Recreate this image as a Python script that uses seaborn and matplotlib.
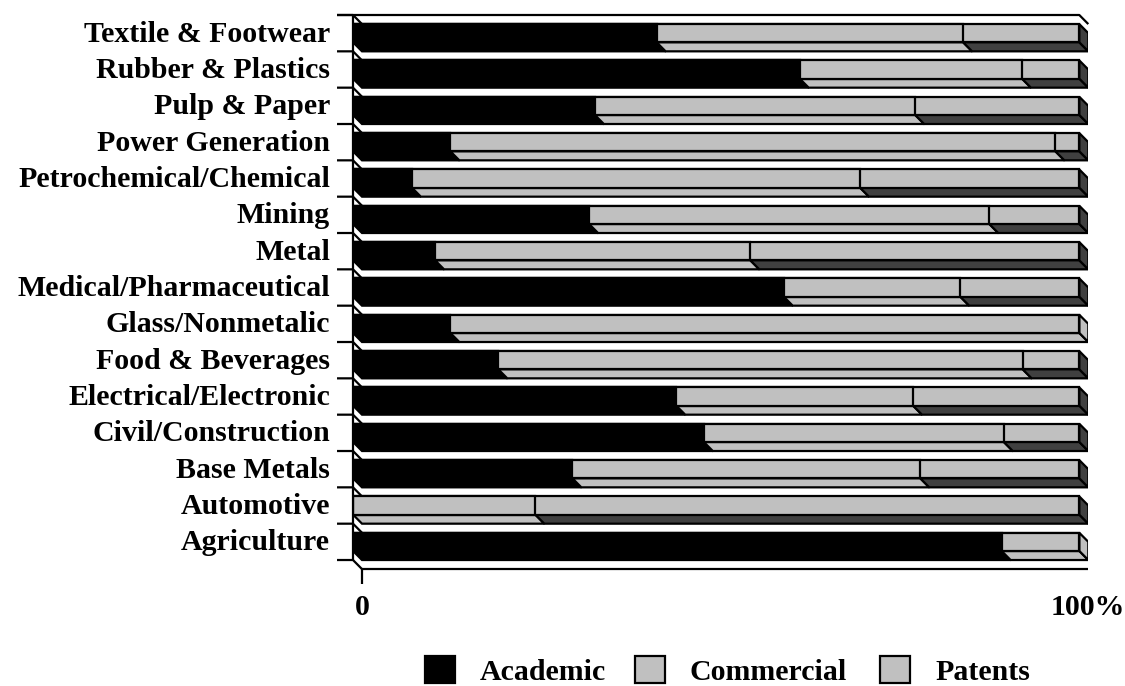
import numpy as np
import pandas as pd
import matplotlib
matplotlib.use("Agg")
import matplotlib.pyplot as plt
import matplotlib.transforms as mtrans
import seaborn as sns
from matplotlib.patches import Polygon, Patch

categories = ["Textile & Footwear", "Rubber & Plastics", "Pulp & Paper", "Power Generation",
              "Petrochemical/Chemical", "Mining", "Metal", "Medical/Pharmaceutical",
              "Glass/Nonmetalic", "Food & Beverages", "Electrical/Electronic",
              "Civil/Construction", "Base Metals", "Automotive", "Agriculture"]
academic = [41.8, 61.5, 33.3, 13.4, 8.1, 32.5, 11.3, 59.3, 13.4, 20.0, 44.5, 48.3, 30.2, 0.0, 89.3]
commercial = [42.2, 30.6, 44.1, 83.3, 61.7, 55.1, 43.4, 24.3, 86.6, 72.2, 32.6, 41.3, 47.9, 25.1, 10.7]
patents = [16.0, 7.9, 22.6, 3.3, 30.2, 12.4, 45.3, 16.4, 0.0, 7.8, 22.9, 10.4, 21.9, 74.9, 0.0]
series_names = ["Academic", "Commercial", "Patents"]
x_tick_labels = ["0", "100%"]

sns.set_theme(style="white")
plt.rcParams["font.family"] = ["Liberation Serif", "DejaVu Serif"]
plt.rcParams["font.weight"] = "bold"
plt.rcParams["text.color"] = "black"
plt.rcParams["xtick.color"] = "black"
plt.rcParams["ytick.color"] = "black"
plt.rcParams["axes.labelcolor"] = "black"

LIGHT = "#C0C0C0"
DARK = "#404040"
LW = 1.6
FS = 21.5

fig = plt.figure(figsize=(11.25, 6.86), dpi=100)
ax = fig.add_axes([0.31378, 0.17041, 0.65360, 0.80772])

df = pd.DataFrame({"category": categories, "Academic": academic,
                   "Commercial": commercial, "Patents": patents})
df["ac"] = df["Academic"] + df["Commercial"]
df["total"] = df["ac"] + df["Patents"]

# front faces (stacked by overlaying cumulative bars)
for col, color in [("total", LIGHT), ("ac", LIGHT), ("Academic", "black")]:
    sns.barplot(data=df, x=col, y="category", order=categories, orient="h",
                color=color, saturation=1, width=0.5, edgecolor="black",
                linewidth=LW, errorbar=None, ax=ax, zorder=3)

# 3D depth: bottom faces and end faces
dx = 9 / 7.263
dy = 0.25
side_colors = ["black", LIGHT, DARK]
for i, row in df.iterrows():
    bounds = [0, row["Academic"], row["ac"], row["total"]]
    last = None
    for k in range(3):
        x0, x1 = bounds[k], bounds[k + 1]
        if x1 - x0 <= 0:
            continue
        last = (x1, side_colors[k])
        y0 = i + 0.25
        ax.add_patch(Polygon([(x0, y0), (x1, y0), (x1 + dx, y0 + dy), (x0 + dx, y0 + dy)],
                             closed=True, facecolor=side_colors[k], edgecolor="black",
                             linewidth=LW, zorder=2, joinstyle="miter"))
    if last is not None:
        xe, c = last
        ax.add_patch(Polygon([(xe, i - 0.25), (xe + dx, i - 0.25 + dy),
                              (xe + dx, i + 0.25 + dy), (xe, i + 0.25)],
                             closed=True, facecolor=c, edgecolor="black",
                             linewidth=LW, zorder=2, joinstyle="miter"))

n = len(categories)
ax.set_xlim(0, 100 + dx)
ax.set_ylim(n - 0.5 + dy, -0.5)

# frame / walls
kw = dict(color="black", linewidth=LW, clip_on=False, zorder=1, solid_capstyle="butt")
ax.plot([-2.2, 100, 100 + dx], [-0.5, -0.5, -0.5 + dy], **kw)
ax.plot([0, 0], [-0.5, n - 0.5], **kw)
for b in np.arange(-0.5, n, 1.0):
    ax.plot([-2.2, 0, dx], [b, b, b + dy], **kw)
ax.plot([dx, 100 + dx], [n - 0.5 + dy] * 2, **kw)
ax.plot([dx, dx], [n - 0.5 + dy, n - 0.5 + dy + 15 / 36.33], **kw)

for s in ax.spines.values():
    s.set_visible(False)
ax.set_xlabel("")
ax.set_ylabel("")
ax.set_xticks([dx, 100 + dx])
ax.set_xticklabels(x_tick_labels, fontsize=FS, fontweight="bold", color="black")
ax.tick_params(axis="x", length=0, pad=18)
ax.tick_params(axis="y", length=0, pad=16.5, labelsize=FS, labelcolor="black")
up = mtrans.ScaledTranslation(0, 2 / 100, fig.dpi_scale_trans)
for t in ax.get_yticklabels():
    t.set_fontweight("bold")
    t.set_transform(t.get_transform() + up)

handles = [Patch(facecolor="black", edgecolor="black", linewidth=LW),
           Patch(facecolor=LIGHT, edgecolor="black", linewidth=LW),
           Patch(facecolor=LIGHT, edgecolor="black", linewidth=LW)]
swatch_left_px = [425, 635, 880]
for h, name, xpx in zip(handles, series_names, swatch_left_px):
    leg = fig.legend([h], [name], loc="center left",
                     bbox_to_anchor=(xpx / 1125, (686 - 671) / 686), frameon=False,
                     prop={"size": FS, "weight": "bold"}, handlelength=1.0, handleheight=1.0,
                     handletextpad=0.84, borderpad=0, borderaxespad=0)

fig.savefig("out.png", dpi=100)
